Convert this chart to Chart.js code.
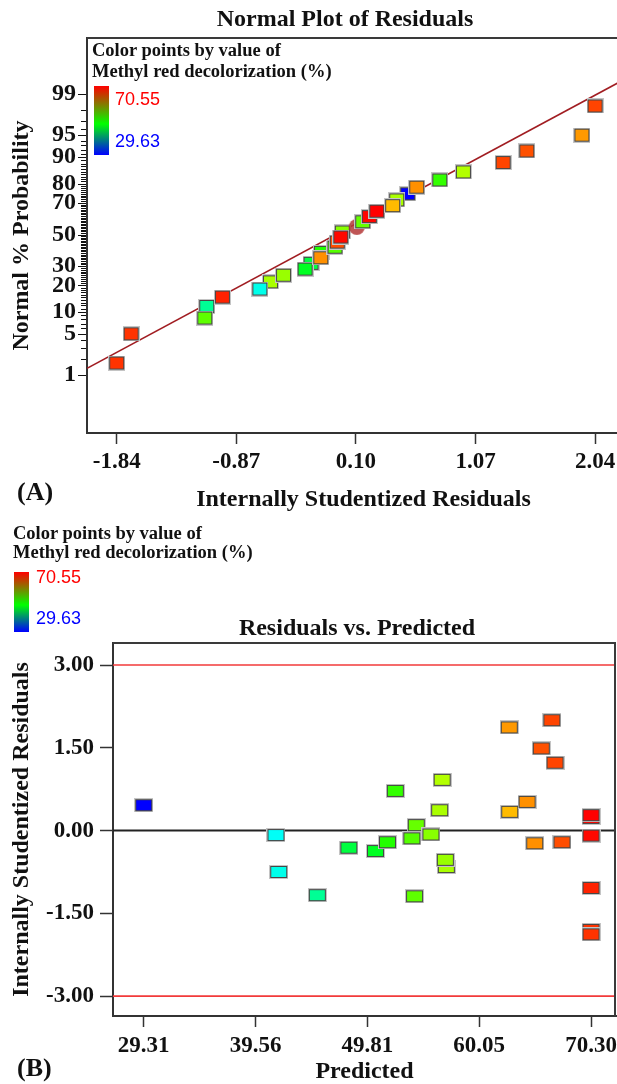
<!DOCTYPE html>
<html>
<head>
<meta charset="utf-8">
<title>Residual diagnostics</title>
<script src="https://cdn.jsdelivr.net/npm/chart.js@4.4.1/dist/chart.umd.min.js"></script>
<style>
  html, body { margin: 0; padding: 0; background: #fff; overflow: hidden; }
  body { width: 617px; height: 1084px; position: relative; font-family: "Liberation Serif", "Times New Roman", serif; }
  canvas { position: absolute; left: 0; }
  #normalCanvas { top: 0; }
  #residCanvas { top: 520px; }
  .txt { position: absolute; font-weight: bold; color: #111; white-space: nowrap; line-height: 1; z-index: 2; }
  .title { font-size: 24px; transform: translateX(-50%); }
  .legend { font-size: 18.5px; }
  .panel { font-size: 26px; }
  .bar { position: absolute; background: linear-gradient(to bottom, #ff0000 0%, #00ff00 55%, #0000ff 100%); z-index: 2; }
  .num { position: absolute; font-family: "Liberation Sans", Arial, sans-serif; font-size: 18px; line-height: 1; z-index: 2; }
</style>
</head>
<body>
<canvas id="normalCanvas" width="640" height="520"></canvas>
<canvas id="residCanvas" width="617" height="564"></canvas>

<div class="txt title" style="left:345px; top:6px;">Normal Plot of Residuals</div>
<div class="txt legend" style="left:92px; top:41px;">Color points by value of</div>
<div class="txt legend" style="left:92px; top:62px;">Methyl red decolorization (%)</div>
<div class="bar" style="left:94px; top:86px; width:15px; height:69px;"></div>
<div class="num" id="maxTop" style="left:115px; top:90px; color:#ff0000;"></div>
<div class="num" id="minTop" style="left:115px; top:132px; color:#0000ff;"></div>
<div class="txt panel" style="left:17px; top:479px;">(A)</div>

<div class="txt legend" style="left:13px; top:524px;">Color points by value of</div>
<div class="txt legend" style="left:13px; top:543px;">Methyl red decolorization (%)</div>
<div class="bar" style="left:14px; top:572px; width:15px; height:60px;"></div>
<div class="num" id="maxBottom" style="left:36px; top:568px; color:#ff0000;"></div>
<div class="num" id="minBottom" style="left:36px; top:609px; color:#0000ff;"></div>
<div class="txt title" style="left:357px; top:615px;">Residuals vs. Predicted</div>
<div class="txt panel" style="left:17px; top:1055px;">(B)</div>

<script>
// ---- data ----

// colour key range (Methyl red decolorization, %)
const responseMin = 29.63;
const responseMax = 70.55;

// (A) normal plot: internally studentized residuals, normal % probability, response (listed in draw order)
const normalResiduals = [-1.84, -1.723, -1.110, -1.126, -0.983, -0.593, -0.679, -0.487, -0.264, -0.312,
  -0.180, -0.185, -0.070, -0.051, -0.010, -0.023, 0.107, 0.155, 0.209, 0.269,
  0.520, 0.431, 0.398, 0.593, 0.780, 0.972, 1.294, 1.486, 1.933, 2.04];
const normalProbability = [1.667, 5.0, 11.667, 8.333, 15.0, 21.667, 18.333, 25.0, 31.667, 28.333,
  38.333, 35.0, 41.667, 45.0, 51.667, 48.333, 55.0, 58.333, 61.667, 65.0,
  75.0, 71.667, 68.333, 78.333, 81.667, 85.0, 88.333, 91.667, 95.0, 98.333];
const normalResponse = [68.5, 68.5, 44.1, 53.8, 69.2, 56.9, 40.7, 56.2, 47.5, 48.7,
  51.5, 64.75, 53.5, 67.5, 55.5, 70.2, 40.2, 54.2, 70.4, 70.55,
  29.63, 56.9, 63.05, 64.75, 52.1, 57.25, 67.8, 67.3, 64.4, 67.8];
const selectedPoint = 16; // run shown as a circle

// straight reference line of the normal plot
const fitResiduals = [-2.081, 2.404];
const fitProbability = [1.338, 99.66];

// axis ticks
const residualTicks = [-1.84, -0.87, 0.10, 1.07, 2.04];
const probabilityTicks = [1, 5, 10, 20, 30, 50, 70, 80, 90, 95, 99];

// (B) residuals vs predicted (listed in draw order)
const predicted = [29.31, 41.43, 41.68, 45.22, 48.11, 50.55, 51.65, 52.37, 53.88, 54.29,
  54.13, 55.63, 56.43, 56.66, 57.04, 56.95, 62.81, 62.85, 64.44, 65.14,
  65.74, 66.71, 67.00, 67.64, 70.30, 70.30, 70.30, 70.30, 70.30, 70.30];
const studentized = [0.46, -0.08, -0.75, -1.17, -0.31, -0.37, -0.21, 0.72, -0.14, 0.10,
  -1.19, -0.07, 0.37, 0.92, -0.66, -0.53, 1.87, 0.34, 0.52, -0.23,
  1.49, 2.00, 1.23, -0.21, 0.23, 0.28, -0.09, -1.04, -1.80, -1.88];
const predictedResponse = [29.63, 40.2, 40.7, 44.1, 47.5, 48.7, 51.5, 52.1, 53.5, 54.2,
  53.8, 55.5, 56.9, 57.25, 56.9, 56.2, 64.4, 63.05, 64.75, 64.75,
  67.3, 67.8, 67.8, 67.5, 70.4, 70.55, 70.2, 69.2, 68.5, 68.5];

const predictedTicks = [29.31, 39.56, 49.81, 60.05, 70.30];
const residualLimitTicks = [3.00, 1.50, 0.00, -1.50, -3.00];
const outlierLimit = 3.00;

// ---- helpers ----

const FONT = '"Liberation Serif", "Times New Roman", serif';
Chart.defaults.font.family = FONT;
Chart.defaults.color = '#111';

/**
 * Inverse of the standard normal CDF (Acklam's approximation)
 * @param {number} p - probability in (0, 1)
 * @returns {number} z value
 */
function probit(p) {
  const a = [-3.969683028665376e+01, 2.209460984245205e+02, -2.759285104469687e+02, 1.383577518672690e+02, -3.066479806614716e+01, 2.506628277459239e+00];
  const b = [-5.447609879822406e+01, 1.615858368580409e+02, -1.556989798598866e+02, 6.680131188771972e+01, -1.328068155288572e+01];
  const c = [-7.784894002430293e-03, -3.223964580411365e-01, -2.400758277161838e+00, -2.549732539343734e+00, 4.374664141464968e+00, 2.938163982698783e+00];
  const d = [7.784695709041462e-03, 3.224671290700398e-01, 2.445134137142996e+00, 3.754408661907416e+00];
  const pLow = 0.02425;
  let q, r;
  if (p < pLow) {
    q = Math.sqrt(-2 * Math.log(p));
    return (((((c[0] * q + c[1]) * q + c[2]) * q + c[3]) * q + c[4]) * q + c[5]) / ((((d[0] * q + d[1]) * q + d[2]) * q + d[3]) * q + 1);
  }
  if (p <= 1 - pLow) {
    q = p - 0.5;
    r = q * q;
    return (((((a[0] * r + a[1]) * r + a[2]) * r + a[3]) * r + a[4]) * r + a[5]) * q / (((((b[0] * r + b[1]) * r + b[2]) * r + b[3]) * r + b[4]) * r + 1);
  }
  q = Math.sqrt(-2 * Math.log(1 - p));
  return -(((((c[0] * q + c[1]) * q + c[2]) * q + c[3]) * q + c[4]) * q + c[5]) / ((((d[0] * q + d[1]) * q + d[2]) * q + d[3]) * q + 1);
}

/**
 * Map a response value to the blue -> red rainbow used by the point colours
 */
function responseColor(v) {
  const t = Math.min(1, Math.max(0, (responseMax - v) / (responseMax - responseMin)));
  return `hsl(${Math.round(240 * t)}, 100%, 50%)`;
}

const markerCache = {};

/**
 * Small bordered rectangle used as a point style
 */
function rectMarker(color, w, h) {
  const key = color + w + 'x' + h;
  if (markerCache[key]) return markerCache[key];
  const c = document.createElement('canvas');
  c.width = w;
  c.height = h;
  const g = c.getContext('2d');
  g.fillStyle = '#c4c4c4';
  g.fillRect(0, 0, w, h);
  g.fillStyle = '#474747';
  g.fillRect(1, 1, w - 2, h - 2);
  g.fillStyle = color;
  g.fillRect(2, 2, w - 4, h - 4);
  markerCache[key] = c;
  return c;
}

function circleMarker(r) {
  const c = document.createElement('canvas');
  c.width = c.height = r * 2 + 2;
  const g = c.getContext('2d');
  g.fillStyle = 'rgba(180, 55, 55, 0.85)';
  g.beginPath();
  g.arc(r + 1, r + 1, r, 0, Math.PI * 2);
  g.fill();
  return c;
}

// fixed axis box sizes so the plot frames land where the figure has them
function fixWidth(w) {
  return scale => { scale.width = w; scale.paddingTop = 0; scale.paddingBottom = 0; };
}
function fixHeight(h) {
  return scale => { scale.height = h; scale.paddingLeft = 0; scale.paddingRight = 0; };
}

// tick marks of the probability axis (every whole percent, longer at labelled ones)
const probTicksPlugin = {
  id: 'probTicks',
  afterDraw(chart, args, opts) {
    if (!opts || !opts.values) return;
    const y = chart.scales.y;
    const left = chart.chartArea.left - 1;
    const ctx = chart.ctx;
    ctx.save();
    ctx.strokeStyle = '#111';
    ctx.lineWidth = 1;
    opts.values.forEach(p => {
      const py = Math.round(y.getPixelForValue(probit(p / 100))) + 0.5;
      const len = opts.major.includes(p) ? 8 : 5;
      ctx.beginPath();
      ctx.moveTo(left - len, py);
      ctx.lineTo(left, py);
      ctx.stroke();
    });
    ctx.restore();
  }
};

// top / right sides of the plot frame
const framePlugin = {
  id: 'frame',
  afterDraw(chart) {
    const { left, top, right, bottom } = chart.chartArea;
    const ctx = chart.ctx;
    ctx.save();
    ctx.strokeStyle = '#3a3a3a';
    ctx.lineWidth = 2;
    ctx.beginPath();
    ctx.moveTo(left, top);
    ctx.lineTo(right - 1, top);
    ctx.lineTo(right - 1, bottom);
    ctx.stroke();
    ctx.restore();
  }
};

const wholePercents = [];
for (let p = 1; p <= 99; p++) wholePercents.push(p);

function tickFont(size) {
  return { family: FONT, size: size, weight: 'bold' };
}
function titleFont(size) {
  return { family: FONT, size: size, weight: 'bold', lineHeight: 1 };
}

document.getElementById('maxTop').textContent = responseMax.toFixed(2);
document.getElementById('minTop').textContent = responseMin.toFixed(2);
document.getElementById('maxBottom').textContent = responseMax.toFixed(2);
document.getElementById('minBottom').textContent = responseMin.toFixed(2);

// ---- (A) normal plot of residuals ----

const normalPoints = normalResiduals.map((r, i) => ({ x: r, y: probit(normalProbability[i] / 100) }));
const fitPoints = fitResiduals.map((r, i) => ({ x: r, y: probit(fitProbability[i] / 100) }));
const selectedCircle = circleMarker(8);

new Chart(document.getElementById('normalCanvas'), {
  type: 'scatter',
  data: {
    datasets: [
      {
        data: normalPoints,
        order: 1,
        pointRadius: 8,
        pointStyle: ctx => ctx.dataIndex === selectedPoint
          ? selectedCircle
          : rectMarker(responseColor(normalResponse[ctx.dataIndex]), 17, 15)
      },
      {
        type: 'line',
        data: fitPoints,
        order: 2,
        borderColor: '#a11d22',
        borderWidth: 1.6,
        pointRadius: 0,
        fill: false
      }
    ]
  },
  options: {
    responsive: false,
    devicePixelRatio: 1,
    animation: false,
    events: [],
    layout: { autoPadding: false, padding: { top: 38, left: 0, right: 0, bottom: 8 } },
    plugins: {
      legend: { display: false },
      tooltip: { enabled: false },
      probTicks: { values: wholePercents, major: probabilityTicks }
    },
    scales: {
      x: {
        type: 'linear',
        min: -2.081,
        max: 2.404,
        afterFit: fixHeight(79),
        afterBuildTicks: scale => { scale.ticks = residualTicks.map(v => ({ value: v })); },
        ticks: {
          autoSkip: false,
          maxRotation: 0,
          padding: 4,
          color: '#111',
          font: tickFont(23),
          callback: v => v.toFixed(2)
        },
        grid: { drawOnChartArea: false, tickLength: 11, tickWidth: 1.5, tickColor: '#333' },
        border: { color: '#333', width: 2 },
        title: {
          display: true,
          text: 'Internally Studentized Residuals',
          color: '#111',
          font: titleFont(24),
          padding: { top: 0, bottom: 0 }
        }
      },
      y: {
        type: 'linear',
        min: -3.286,
        max: 3.253,
        afterFit: fixWidth(87),
        afterBuildTicks: scale => { scale.ticks = probabilityTicks.map(p => ({ value: probit(p / 100) })); },
        ticks: {
          autoSkip: false,
          padding: 11,
          color: '#111',
          font: tickFont(24),
          callback: (v, i) => String(probabilityTicks[i])
        },
        grid: { drawOnChartArea: false, drawTicks: false },
        border: { color: '#333', width: 2 },
        title: {
          display: true,
          text: 'Normal % Probability',
          color: '#111',
          font: titleFont(24),
          padding: { top: 10, bottom: 0 }
        }
      }
    }
  },
  plugins: [probTicksPlugin, framePlugin]
});

// ---- (B) residuals vs predicted ----

const xMinPred = 26.495;
const xMaxPred = 72.59;
const residPoints = predicted.map((p, i) => ({ x: p, y: studentized[i] }));

function limitLine(value, color, width) {
  return {
    type: 'line',
    data: [{ x: xMinPred, y: value }, { x: xMaxPred, y: value }],
    order: 2,
    borderColor: color,
    borderWidth: width,
    pointRadius: 0,
    fill: false
  };
}

new Chart(document.getElementById('residCanvas'), {
  type: 'scatter',
  data: {
    datasets: [
      {
        data: residPoints,
        order: 1,
        pointRadius: 8,
        pointStyle: ctx => rectMarker(responseColor(predictedResponse[ctx.dataIndex]), 19, 14)
      },
      limitLine(outlierLimit, '#f23a3a', 1.6),
      limitLine(-outlierLimit, '#f23a3a', 1.6),
      limitLine(0, '#222', 2)
    ]
  },
  options: {
    responsive: false,
    devicePixelRatio: 1,
    animation: false,
    events: [],
    layout: { autoPadding: false, padding: { top: 123, left: 0, right: 1, bottom: 0 } },
    plugins: {
      legend: { display: false },
      tooltip: { enabled: false }
    },
    scales: {
      x: {
        type: 'linear',
        min: xMinPred,
        max: xMaxPred,
        afterFit: fixHeight(68),
        afterBuildTicks: scale => { scale.ticks = predictedTicks.map(v => ({ value: v })); },
        ticks: {
          autoSkip: false,
          maxRotation: 0,
          padding: 5,
          color: '#111',
          font: tickFont(23),
          callback: v => v.toFixed(2)
        },
        grid: { drawOnChartArea: false, tickLength: 11, tickWidth: 1.5, tickColor: '#333' },
        border: { color: '#333', width: 2 },
        title: {
          display: true,
          text: 'Predicted',
          color: '#111',
          font: titleFont(24),
          padding: { top: 0, bottom: 0 }
        }
      },
      y: {
        type: 'linear',
        min: -3.36,
        max: 3.40,
        afterFit: fixWidth(113),
        afterBuildTicks: scale => { scale.ticks = residualLimitTicks.map(v => ({ value: v })); },
        ticks: {
          autoSkip: false,
          padding: 6,
          color: '#111',
          font: tickFont(23),
          callback: v => v.toFixed(2)
        },
        grid: { drawOnChartArea: false, tickLength: 13, tickWidth: 1.5, tickColor: '#333' },
        border: { color: '#333', width: 2 },
        title: {
          display: true,
          text: 'Internally Studentized Residuals',
          color: '#111',
          font: titleFont(24),
          padding: { top: 10, bottom: 0 }
        }
      }
    }
  },
  plugins: [framePlugin]
});
</script>
</body>
</html>
